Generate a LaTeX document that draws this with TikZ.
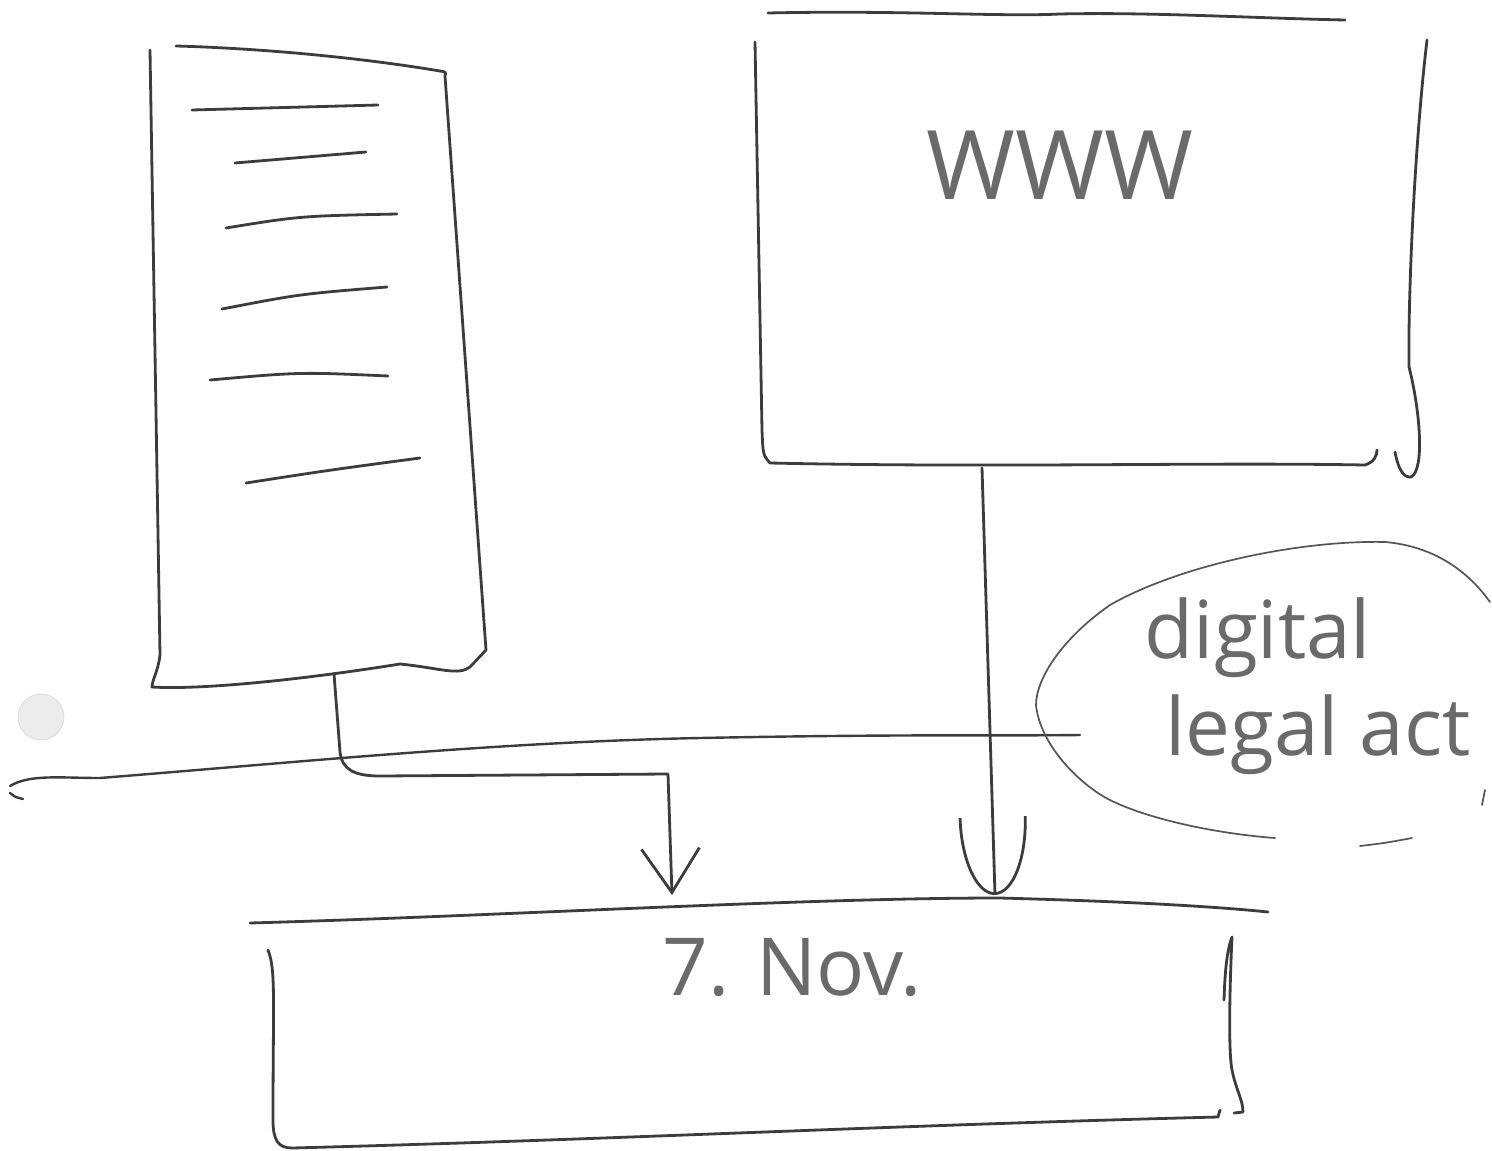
\documentclass[tikz,border=0pt]{standalone}
\usepackage{fontspec}
\setmainfont{Open Sans}
\usetikzlibrary{arrows.meta}
\definecolor{ink}{HTML}{3C3C3C}
\definecolor{inklight}{HTML}{555555}
\definecolor{pencil}{HTML}{6A6A6A}
\definecolor{dotfill}{HTML}{ECECEC}
\definecolor{dotedge}{HTML}{DCDCDC}
\begin{document}
\begin{tikzpicture}[x=1pt,y=-1pt,line cap=round,line join=round,
  pen/.style={draw=ink,line width=2.8pt},
  thinpen/.style={draw=inklight,line width=1.7pt},
  rule/.style={draw=ink,line width=2.4pt},
  txt/.style={text=pencil,inner sep=0pt,font=\fontsize{80}{80}\selectfont},
  vhead/.style={-{Straight Barb[length=44pt,width=58pt,line width=2.8pt]}},
  uhead/.style={-{Arc Barb[length=78pt,width=68pt,line width=2.8pt]}}]
\useasboundingbox (0,0) rectangle (1492,1151);
\fill[white] (0,0) rectangle (1492,1151);

% punch-hole like grey dot
\draw[dotedge,fill=dotfill,line width=0.8pt] (41,717) circle (23);

% ---------- left document ----------
\coordinate (docTL) at (150,50);
\coordinate (docBL) at (152,687);
\coordinate (docBR) at (486,650);
\coordinate (docTR) at (445,76);
\coordinate (docout) at (334,674);
\draw[pen] (docTL) -- (160,655) .. controls (158,672) and (152,680) .. (docBL)
  .. controls (200,690) and (300,680) .. (400,664)
  .. controls (440,668) and (458,676) .. (470,667)
  -- (docBR) -- (docTR) .. controls (446,72) .. (440,71);
\draw[pen] (176,46) .. controls (250,48) and (350,56) .. (440,71);
% text lines
\draw[pen] (192,110) -- (378,105);
\draw[pen] (235,163) -- (366,152);
\draw[pen] (226,228) .. controls (300,216) .. (397,214);
\draw[pen] (222,309) .. controls (300,294) .. (387,287);
\draw[pen] (210,380) .. controls (300,372) .. (388,376);
\draw[pen] (246,483) .. controls (330,470) .. (420,458);

% ---------- WWW box ----------
\coordinate (wwwout) at (982,468);
\draw[pen] (768,13) .. controls (900,10) and (1000,17) .. (1060,14)
  .. controls (1150,12) and (1250,18) .. (1345,20);
\draw[pen] (755,42) -- (762,430) .. controls (763,455) .. (770,463)
  .. controls (1000,468) and (1200,462) .. (1365,465)
  .. controls (1374,462) and (1377,456) .. (1377,450);
\draw[pen] (1427,40) .. controls (1414,150) and (1408,300) .. (1409,367);
\draw[pen] (1409,367) .. controls (1420,410) and (1425,470) .. (1411,477)
  .. controls (1403,478) and (1398,468) .. (1395,452);
\node[txt,font=\fontsize{96}{96}\selectfont] (www) at (1060,165) {WWW};

% ---------- long horizontal line ----------
\coordinate (hlL) at (10,786);
\coordinate (hlR) at (1080,735);
\draw[rule] (hlL) .. controls (30,774) and (60,778) .. (100,778)
  .. controls (300,762) and (500,742) .. (700,738)
  .. controls (900,734) and (1000,736) .. (hlR);
\draw[rule] (10,793) .. controls (15,797) .. (23,799);

% ---------- ellipse ----------
\draw[thinpen] (1490,602) .. controls (1460,560) and (1420,545) .. (1385,542)
  .. controls (1300,540) and (1180,565) .. (1110,605)
  .. controls (1060,640) and (1036,680) .. (1036,705)
  .. controls (1040,745) and (1080,785) .. (1110,800)
  .. controls (1150,820) and (1220,834) .. (1275,838);
\draw[thinpen] (1360,846) .. controls (1385,843) .. (1412,838);
\draw[thinpen] (1485,790) -- (1482,805);
\node[txt] (dig) at (1258,638) {digital};
\node[txt] (legal) at (1318,735) {legal act};

% ---------- bottom box ----------
\coordinate (in1) at (672,895);
\coordinate (in2) at (995,895);
\draw[pen] (250,923) .. controls (500,916) and (800,898) .. (1000,898)
  .. controls (1150,902) and (1230,908) .. (1268,912);
\draw[pen] (268,950) .. controls (276,970) and (273,1000) .. (273,1120)
  .. controls (273,1140) and (278,1148) .. (292,1148)
  .. controls (600,1140) and (900,1125) .. (1218,1117) -- (1220,1110);
\draw[pen] (1224,1000) .. controls (1225,970) and (1227,950) .. (1232,937)
  .. controls (1230,980) and (1228,1050) .. (1232,1070)
  .. controls (1236,1090) and (1243,1100) .. (1243,1112) -- (1234,1113);
\node[txt] (date) at (792,968) {7.\,\,Nov.};

% ---------- connectors ----------
\draw[pen,vhead] (docout) -- (340,752) .. controls (342,770) and (355,776) .. (380,776)
  -- (668,774) -- (in1);
\draw[pen,uhead] (wwwout) -- (in2);
\end{tikzpicture}
\end{document}
